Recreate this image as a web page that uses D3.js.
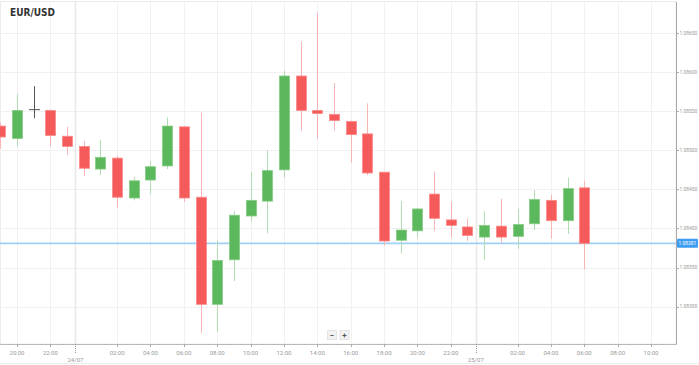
<!DOCTYPE html>
<html><head><meta charset="utf-8">
<script src="https://cdn.jsdelivr.net/npm/d3@7"></script>
<style>html,body{margin:0;padding:0;background:#fff;}svg{display:block;}</style>
</head><body>
<svg id="c" width="699" height="365"></svg>
<script>
const title = "EUR/USD";
const times = [
 "2019-07-23T19:00Z","2019-07-23T20:00Z","2019-07-23T21:00Z","2019-07-23T22:00Z","2019-07-23T23:00Z",
 "2019-07-24T00:00Z","2019-07-24T01:00Z","2019-07-24T02:00Z","2019-07-24T03:00Z","2019-07-24T04:00Z",
 "2019-07-24T05:00Z","2019-07-24T06:00Z","2019-07-24T07:00Z","2019-07-24T08:00Z","2019-07-24T09:00Z",
 "2019-07-24T10:00Z","2019-07-24T11:00Z","2019-07-24T12:00Z","2019-07-24T13:00Z","2019-07-24T14:00Z",
 "2019-07-24T15:00Z","2019-07-24T16:00Z","2019-07-24T17:00Z","2019-07-24T18:00Z","2019-07-24T19:00Z",
 "2019-07-24T20:00Z","2019-07-24T21:00Z","2019-07-24T22:00Z","2019-07-24T23:00Z","2019-07-25T00:00Z",
 "2019-07-25T01:00Z","2019-07-25T02:00Z","2019-07-25T03:00Z","2019-07-25T04:00Z","2019-07-25T05:00Z",
 "2019-07-25T06:00Z"];
const open  = [1.08531,1.08515,1.08552,1.08551,1.08518,1.08505,1.08476,1.08490,1.08439,1.08462,1.08480,1.08530,1.08440,1.08303,1.08360,1.08416,1.08435,1.08475,1.08595,1.08551,1.08546,1.08537,1.08521,1.08472,1.08385,1.08397,1.08444,1.08411,1.08402,1.08389,1.08403,1.08390,1.08406,1.08436,1.08410,1.08452];
const high  = [1.08535,1.08572,1.08582,1.08552,1.08530,1.08512,1.08513,1.08493,1.08466,1.08486,1.08542,1.08531,1.08548,1.08385,1.08422,1.08472,1.08500,1.08602,1.08639,1.08676,1.08586,1.08538,1.08560,1.08472,1.08435,1.08426,1.08473,1.08434,1.08413,1.08422,1.08438,1.08425,1.08449,1.08443,1.08465,1.08461];
const low   = [1.08502,1.08505,1.08541,1.08505,1.08494,1.08467,1.08468,1.08427,1.08436,1.08444,1.08476,1.08434,1.08266,1.08268,1.08333,1.08409,1.08394,1.08465,1.08525,1.08515,1.08525,1.08484,1.08468,1.08378,1.08368,1.08388,1.08397,1.08388,1.08384,1.08360,1.08382,1.08374,1.08398,1.08387,1.08393,1.08348];
const close = [1.08517,1.08551,1.08552,1.08519,1.08505,1.08477,1.08491,1.08440,1.08461,1.08479,1.08531,1.08439,1.08303,1.08359,1.08417,1.08436,1.08474,1.08595,1.08551,1.08547,1.08538,1.08520,1.08471,1.08384,1.08398,1.08425,1.08413,1.08404,1.08391,1.08404,1.08389,1.08405,1.08437,1.08410,1.08451,1.08381];
const yTicks = [1.08300,1.08350,1.08400,1.08450,1.08500,1.08550,1.08600,1.08650];
const xTickTimes = ["2019-07-23T20:00Z","2019-07-23T22:00Z","2019-07-24T02:00Z","2019-07-24T04:00Z","2019-07-24T06:00Z","2019-07-24T08:00Z","2019-07-24T10:00Z","2019-07-24T12:00Z","2019-07-24T14:00Z","2019-07-24T16:00Z","2019-07-24T18:00Z","2019-07-24T20:00Z","2019-07-24T22:00Z","2019-07-25T02:00Z","2019-07-25T04:00Z","2019-07-25T06:00Z","2019-07-25T08:00Z","2019-07-25T10:00Z"];
const xTickLabels = ["20:00","22:00","02:00","04:00","06:00","08:00","10:00","12:00","14:00","16:00","18:00","20:00","22:00","02:00","04:00","06:00","08:00","10:00"];
const dayTimes = ["2019-07-23T23:30Z","2019-07-24T23:30Z"];
const dayLabels = ["24/07","25/07"];
const lastPrice = 1.08381;

const svg = d3.select("#c");
const W = 699, H = 365, axisX = 676, axisY = 344;
const x = d3.scaleUtc().domain([new Date("2019-07-23T20:00Z"), new Date("2019-07-25T10:00Z")]).range([17, 651]);
const y = d3.scaleLinear().domain([1.0830, 1.0865]).range([306.7, 33]);

// frame
svg.append("rect").attr("x",0.5).attr("y",1.5).attr("width",axisX-0.5).attr("height",axisY-1.5)
  .attr("fill","none").attr("stroke","#ececec");
svg.append("line").attr("x1",0).attr("x2",W).attr("y1",363.5).attr("y2",363.5).attr("stroke","#ececec");

// grid
const gx = svg.append("g");
gx.selectAll("line.h").data(yTicks).join("line").attr("class","h")
  .attr("x1",0).attr("x2",axisX).attr("y1",d=>Math.round(y(d))+0.5).attr("y2",d=>Math.round(y(d))+0.5)
  .attr("stroke","#f1f1f1");
gx.selectAll("line.v").data(xTickTimes).join("line").attr("class","v")
  .attr("x1",d=>Math.round(x(new Date(d)))+0.5).attr("x2",d=>Math.round(x(new Date(d)))+0.5)
  .attr("y1",2).attr("y2",axisY).attr("stroke","#f1f1f1");
gx.selectAll("line.d").data(dayTimes).join("line").attr("class","d")
  .attr("x1",d=>Math.round(x(new Date(d)))+0.5).attr("x2",d=>Math.round(x(new Date(d)))+0.5)
  .attr("y1",2).attr("y2",axisY).attr("stroke","#e8e8e8").attr("stroke-width",1.5);

// current price line
svg.append("line").attr("x1",0).attr("x2",axisX).attr("y1",y(lastPrice)).attr("y2",y(lastPrice))
  .attr("stroke","#9fd0f7").attr("stroke-width",1.6);

// candles
const data = times.map((t,i)=>({t:new Date(t),o:open[i],h:high[i],l:low[i],c:close[i]}));
const red = "#f65b5b", redW = "#fbb4b4", redS="#fa8a8a";
const green = "#5cb85c", greenW = "#b2dcb2", greenS="#86cc86";
const dark = "#555";
const cg = svg.append("g");
const colOf = d => d.c > d.o ? "g" : (d.c < d.o ? "r" : "d");
cg.selectAll("line.w").data(data).join("line").attr("class","w")
  .attr("x1",d=>Math.round(x(d.t))+0.5).attr("x2",d=>Math.round(x(d.t))+0.5)
  .attr("y1",d=>y(d.h)).attr("y2",d=>y(d.l))
  .attr("stroke",d=>({g:greenW,r:redW,d:dark})[colOf(d)]).attr("stroke-width",1);
cg.selectAll("rect.b").data(data.filter(d=>d.o!==d.c)).join("rect").attr("class","b")
  .attr("x",d=>Math.round(x(d.t))-4.5).attr("width",10)
  .attr("y",d=>y(Math.max(d.o,d.c))).attr("height",d=>Math.max(1.5,Math.abs(y(d.o)-y(d.c))))
  .attr("fill",d=>colOf(d)==="g"?green:red)
  .attr("stroke",d=>colOf(d)==="g"?greenS:redS).attr("stroke-width",0.8);
cg.selectAll("line.dj").data(data.filter(d=>d.o===d.c)).join("line").attr("class","dj")
  .attr("x1",d=>Math.round(x(d.t))-5).attr("x2",d=>Math.round(x(d.t))+6)
  .attr("y1",d=>y(d.o)).attr("y2",d=>y(d.o)).attr("stroke",dark).attr("stroke-width",1);

// axes
svg.append("line").attr("x1",axisX+0.5).attr("x2",axisX+0.5).attr("y1",2).attr("y2",axisY+0.5).attr("stroke","#a8a8a8");
svg.append("line").attr("x1",0).attr("x2",axisX+0.5).attr("y1",axisY+0.5).attr("y2",axisY+0.5).attr("stroke","#b8b8b8");
const fnt = "Roboto, 'Liberation Sans', sans-serif";
const ya = svg.append("g");
ya.selectAll("line").data(yTicks).join("line")
  .attr("x1",axisX).attr("x2",axisX+3).attr("y1",d=>Math.round(y(d))+0.5).attr("y2",d=>Math.round(y(d))+0.5).attr("stroke","#aaa");
ya.selectAll("text").data(yTicks).join("text")
  .attr("x",axisX+3.5).attr("y",d=>y(d)).attr("dy","0.35em")
  .attr("font-family",fnt).attr("font-size",4.9).attr("fill","#999").text(d=>d.toFixed(5));
const xa = svg.append("g");
xa.selectAll("line").data(xTickTimes).join("line")
  .attr("x1",d=>Math.round(x(new Date(d)))+0.5).attr("x2",d=>Math.round(x(new Date(d)))+0.5)
  .attr("y1",axisY).attr("y2",axisY+3).attr("stroke","#aaa");
xa.selectAll("text").data(xTickTimes).join("text")
  .attr("x",d=>x(new Date(d))).attr("y",354.5).attr("text-anchor","middle")
  .attr("font-family",fnt).attr("font-size",6).attr("fill","#999").text((d,i)=>xTickLabels[i]);
xa.selectAll("line.dt").data(dayTimes).join("line").attr("class","dt")
  .attr("x1",d=>Math.round(x(new Date(d)))+0.5).attr("x2",d=>Math.round(x(new Date(d)))+0.5)
  .attr("y1",axisY).attr("y2",axisY+9).attr("stroke","#999").attr("stroke-dasharray","1,1");
xa.selectAll("text.dl").data(dayTimes).join("text").attr("class","dl")
  .attr("x",d=>x(new Date(d))).attr("y",361.5).attr("text-anchor","middle")
  .attr("font-family",fnt).attr("font-size",6).attr("fill","#999").text((d,i)=>dayLabels[i]);

// price label
const py = y(lastPrice);
svg.append("rect").attr("x",axisX+1).attr("y",py-4.5).attr("width",21).attr("height",9).attr("rx",1)
  .attr("fill","#3d9df0");
svg.append("text").attr("x",axisX+2.5).attr("y",py).attr("dy","0.35em")
  .attr("font-family",fnt).attr("font-size",4.9).attr("fill","#fff").text(lastPrice.toFixed(5));

// title
svg.append("text").attr("x",10).attr("y",16).attr("font-family","'Liberation Sans Narrow','DejaVu Sans Condensed',Roboto,sans-serif")
  .attr("font-weight","bold").attr("font-size",10).attr("fill","#333").text(title);

// zoom buttons
const zb = svg.append("g");
[["−",332],["+",344.5]].forEach(([s,cx])=>{
  zb.append("rect").attr("x",cx-4.5).attr("y",330.5).attr("width",9).attr("height",9).attr("fill","#f2f2f2").attr("stroke","#e4e4e4");
  zb.append("text").attr("x",cx).attr("y",335).attr("dy","0.35em").attr("text-anchor","middle")
    .attr("font-family",fnt).attr("font-weight","bold").attr("font-size",8).attr("fill","#555").text(s);
});
</script>
</body></html>
